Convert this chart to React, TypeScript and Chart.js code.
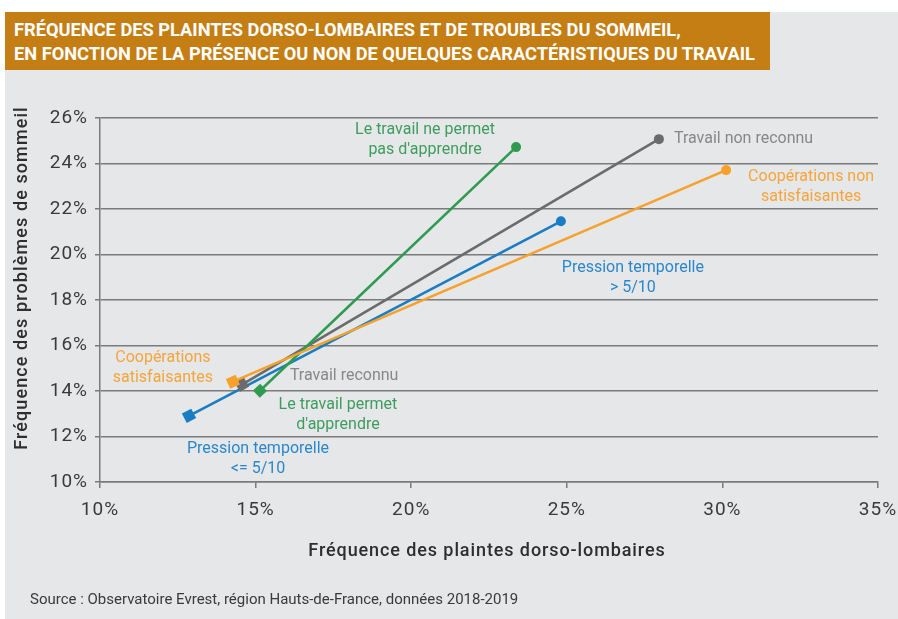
import React, { useEffect, useRef } from "react";
import { Chart, registerables } from "chart.js";

Chart.register(...registerables);

// ---- Data ----
const seriesNames = [
  "Pression temporelle",
  "Apprendre",
  "Reconnaissance",
  "Coopérations",
];
// Favourable condition (start point)
const favorableX = [12.86, 15.14, 14.56, 14.27]; // % plaintes dorso-lombaires
const favorableY = [12.91, 14.01, 14.28, 14.41]; // % problèmes de sommeil
// Unfavourable condition (end point)
const unfavorableX = [24.81, 23.37, 27.96, 30.12];
const unfavorableY = [21.46, 24.72, 25.07, 23.71];

const favorableLabels = [
  ["Pression temporelle", "<= 5/10"],
  ["Le travail permet", "d'apprendre"],
  ["Travail reconnu"],
  ["Coopérations", "satisfaisantes"],
];
const unfavorableLabels = [
  ["Pression temporelle", "> 5/10"],
  ["Le travail ne permet", "pas d'apprendre"],
  ["Travail non reconnu"],
  ["Coopérations non", "satisfaisantes"],
];

const xMin = 10, xMax = 35, xStep = 5;
const yMin = 10, yMax = 26, yStep = 2;

const titleLines = [
  "FRÉQUENCE DES PLAINTES DORSO-LOMBAIRES ET DE TROUBLES DU SOMMEIL,",
  "EN FONCTION DE LA PRÉSENCE OU NON DE QUELQUES CARACTÉRISTIQUES DU TRAVAIL",
];
const xTitle = "Fréquence des plaintes dorso-lombaires";
const yTitle = "Fréquence des problèmes de sommeil";
const sourceText = "Source : Observatoire Evrest, région Hauts-de-France, données 2018-2019";

// ---- Styles ----
const lineColors = ["#1a7dc3", "#2f9b50", "#6b6b6d", "#f6a12b"];
const textColors = ["#2b87cc", "#3d9d5e", "#878787", "#f5a53a"];
const startRot = [-27.5, -43.5, -30.4, -23.2];
const startRadius = [7.5, 7, 7.5, 7.5];
// label placement (pixel offsets from the point)
const startLabelPos = [
  { dx: 69, dy: 33, align: "center" },
  { dx: 78, dy: 14, align: "center" },
  { dx: 48, dy: -9, align: "left" },
  { dx: -70, dy: -24, align: "center" },
];
const endLabelPos = [
  { dx: 72, dy: 47, align: "center" },
  { dx: -91, dy: -17, align: "center" },
  { dx: 15, dy: 0, align: "left" },
  { dx: 85, dy: 7, align: "center" },
];
const FONT = "Roboto, 'DejaVu Sans', sans-serif";

const spacingPlugin = {
  id: "tickSpacing",
  beforeDraw(chart: any) {
    (chart.ctx as any).letterSpacing = "1px";
  },
};

const labelPlugin = {
  id: "pointLabels",
  afterDatasetsDraw(chart: any) {
    const ctx = chart.ctx;
    const xs = chart.scales.x;
    const ys = chart.scales.y;
    ctx.save();
    ctx.letterSpacing = "0px";
    ctx.font = `400 16px ${FONT}`;
    ctx.textBaseline = "middle";
    seriesNames.forEach((_, i) => {
      const draw = (x: number, y: number, lines: string[], pos: any) => {
        const px = xs.getPixelForValue(x) + pos.dx;
        const py = ys.getPixelForValue(y) + pos.dy;
        ctx.fillStyle = textColors[i];
        ctx.textAlign = pos.align;
        lines.forEach((l, k) => ctx.fillText(l, px, py + k * 20));
      };
      draw(favorableX[i], favorableY[i], favorableLabels[i], startLabelPos[i]);
      draw(unfavorableX[i], unfavorableY[i], unfavorableLabels[i], endLabelPos[i]);
    });
    ctx.restore();
  },
};

const axisTitlePlugin = {
  id: "axisTitles",
  afterDraw(chart: any) {
    const ctx = chart.ctx;
    const area = chart.chartArea;
    ctx.save();
    ctx.fillStyle = "#2e2e2e";
    ctx.font = `500 18px ${FONT}`;
    ctx.textAlign = "center";
    ctx.textBaseline = "middle";
    ctx.letterSpacing = "0.9px";
    ctx.fillText(xTitle, (area.left + area.right) / 2 - 2, area.bottom + 69);
    ctx.letterSpacing = "1.1px";
    ctx.translate(22, (area.top + area.bottom) / 2 - 22);
    ctx.rotate(-Math.PI / 2);
    ctx.fillText(yTitle, 0, 0);
    ctx.restore();
  },
};

export default function App() {
  const ref = useRef<HTMLCanvasElement | null>(null);
  useEffect(() => {
    if (!ref.current) return;
    const drawOrder = [4, 2, 3, 1];
    const chart = new Chart(ref.current, {
      type: "line",
      data: {
        datasets: seriesNames.map((name, i) => ({
          label: name,
          data: [
            { x: favorableX[i], y: favorableY[i] },
            { x: unfavorableX[i], y: unfavorableY[i] },
          ],
          borderColor: lineColors[i],
          backgroundColor: lineColors[i],
          borderWidth: 2.6,
          pointStyle: ["rect", "circle"] as any,
          pointRotation: [startRot[i], 0],
          pointRadius: [startRadius[i], 5],
          pointBorderWidth: 0,
          order: drawOrder[i],
          clip: false as any,
        })),
      },
      options: {
        animation: false,
        responsive: false,
        layout: { padding: { left: 0, right: 20, top: 118, bottom: 57 } },
        plugins: {
          legend: { display: false },
          tooltip: { enabled: false },
          title: { display: false },
        },
        scales: {
          x: {
            type: "linear",
            min: xMin,
            max: xMax,
            afterFit: (s: any) => {
              s.height = 80;
              s.paddingLeft = 0;
              s.paddingRight = 0;
            },
            ticks: {
              stepSize: xStep,
              padding: 11,
              color: "#3a3a3a",
              font: { family: FONT, size: 19 },
              callback: (v: any) => `${v}%`,
            },
            grid: {
              drawOnChartArea: false,
              drawTicks: true,
              tickLength: 6,
              color: "#7b7b7b",
              lineWidth: 1.5,
            },
            border: { display: true, color: "#7b7b7b", width: 1.5 },
            title: { display: false },
          },
          y: {
            type: "linear",
            min: yMin,
            max: yMax,
            afterFit: (s: any) => {
              s.width = 100;
              s.paddingTop = 0;
              s.paddingBottom = 0;
            },
            ticks: {
              stepSize: yStep,
              padding: 7,
              color: "#3a3a3a",
              font: { family: FONT, size: 19 },
              callback: (v: any) => `${v}%`,
            },
            grid: {
              drawTicks: true,
              tickLength: 5,
              color: "#7b7b7b",
              lineWidth: 1.5,
            },
            border: { display: true, color: "#7b7b7b", width: 1.5 },
            title: { display: false },
          },
        },
      },
      plugins: [spacingPlugin, labelPlugin, axisTitlePlugin],
    });
    return () => chart.destroy();
  }, []);

  const titleLineStyle: React.CSSProperties = { transform: "scaleX(0.96)", transformOrigin: "left" };

  return (
    <div style={{ position: "absolute", left: 0, top: 0, width: 898, height: 619, background: "#ffffff", overflow: "hidden" }}>
      <div style={{ position: "absolute", left: 5, top: 12, width: 893, height: 607, background: "#e6e7e9" }} />
      <div
        style={{
          position: "absolute",
          left: 5,
          top: 12,
          width: 765,
          height: 58,
          background: "#c47e14",
          color: "#ffffff",
          fontFamily: FONT,
          fontWeight: 700,
          fontSize: 19,
          lineHeight: "23.5px",
          boxSizing: "border-box",
          padding: "6px 0 0 9px",
          whiteSpace: "nowrap",
        }}
      >
        <div style={titleLineStyle}>{titleLines[0]}</div>
        <div style={titleLineStyle}>{titleLines[1]}</div>
      </div>
      <canvas ref={ref} width={898} height={619} style={{ position: "absolute", left: 0, top: 0 }} />
      <div
        style={{
          position: "absolute",
          left: 30,
          top: 590,
          fontFamily: FONT,
          fontSize: 15,
          color: "#3a3a3a",
          whiteSpace: "nowrap",
        }}
      >
        {sourceText}
      </div>
    </div>
  );
}
